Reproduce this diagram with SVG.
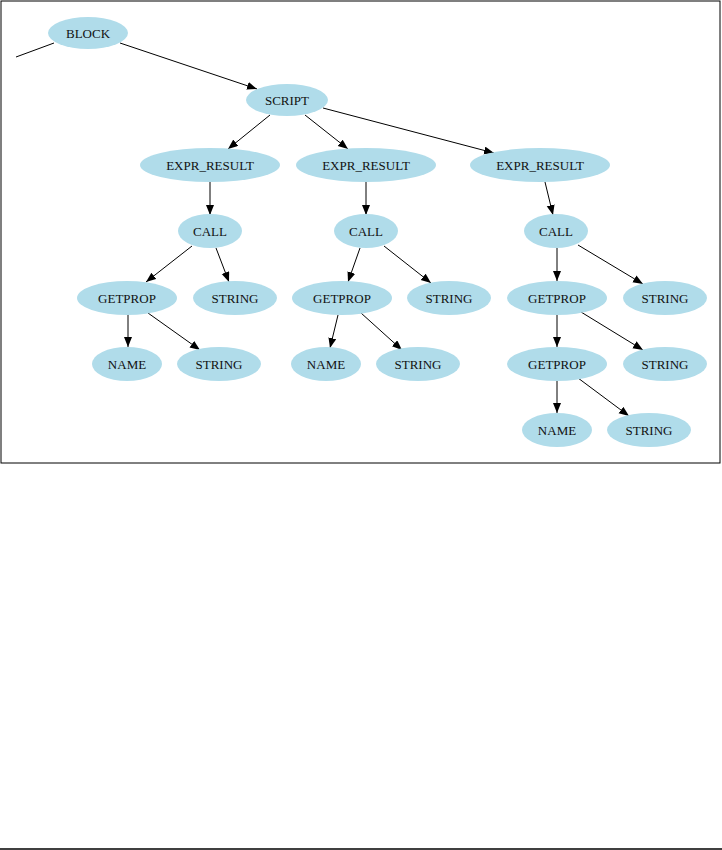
<svg xmlns="http://www.w3.org/2000/svg" width="722" height="850" viewBox="0 0 722 850">
<style>
.n ellipse{fill:#b0dcea;stroke:none}
.n text{font-family:"Liberation Serif","Times New Roman",serif;font-size:13px;fill:#111;text-anchor:middle;dominant-baseline:central}
.e line{stroke:#000;stroke-width:1;marker-end:url(#ah)}
</style>
<defs>
<marker id="ah" markerUnits="userSpaceOnUse" markerWidth="12" markerHeight="10" refX="10" refY="4" orient="auto">
<path d="M0,0 L10,4 L0,8 Z" fill="#000"/>
</marker>
</defs>
<rect x="1" y="1" width="719" height="462" fill="none" stroke="#000" stroke-width="1"/>
<line x1="0" y1="849" x2="722" y2="849" stroke="#000" stroke-width="1.5"/>
<g id="connectors" class="e">
<line x1="16" y1="57" x2="54" y2="43" style="marker-end:none"/>
<line x1="120" y1="43" x2="257" y2="89"/>
<line x1="270" y1="115" x2="228" y2="149"/>
<line x1="305" y1="115" x2="348" y2="149"/>
<line x1="323" y1="108" x2="494" y2="153"/>
<line x1="210" y1="182" x2="210" y2="215"/>
<line x1="366" y1="182" x2="366" y2="215"/>
<line x1="545" y1="182" x2="553" y2="215"/>
<line x1="192" y1="246" x2="146" y2="282"/>
<line x1="216" y1="248" x2="229" y2="282"/>
<line x1="360" y1="248" x2="348" y2="282"/>
<line x1="384" y1="246" x2="431" y2="283"/>
<line x1="557" y1="248" x2="557" y2="281"/>
<line x1="578" y1="245" x2="643" y2="284"/>
<line x1="128" y1="314" x2="128" y2="347"/>
<line x1="148" y1="313" x2="200" y2="350"/>
<line x1="338" y1="315" x2="330" y2="348"/>
<line x1="361" y1="313" x2="402" y2="350"/>
<line x1="557" y1="315" x2="557" y2="347"/>
<line x1="581" y1="312" x2="643" y2="350"/>
<line x1="557" y1="381" x2="557" y2="413"/>
<line x1="578" y1="378" x2="629" y2="416"/>
</g>
<g id="block" class="n"><ellipse cx="88" cy="33" rx="40" ry="16"/><text x="88" y="33">BLOCK</text></g>
<g id="script" class="n"><ellipse cx="287" cy="100" rx="41" ry="16"/><text x="287" y="100">SCRIPT</text></g>
<g id="expr1" class="n"><ellipse cx="210" cy="165" rx="70" ry="17"/><text x="210" y="165">EXPR_RESULT</text></g>
<g id="expr2" class="n"><ellipse cx="366" cy="165" rx="70" ry="17"/><text x="366" y="165">EXPR_RESULT</text></g>
<g id="expr3" class="n"><ellipse cx="540" cy="165" rx="70" ry="17"/><text x="540" y="165">EXPR_RESULT</text></g>
<g id="call1" class="n"><ellipse cx="210" cy="231" rx="32" ry="17"/><text x="210" y="231">CALL</text></g>
<g id="call2" class="n"><ellipse cx="366" cy="231" rx="32" ry="17"/><text x="366" y="231">CALL</text></g>
<g id="call3" class="n"><ellipse cx="556" cy="231" rx="32" ry="17"/><text x="556" y="231">CALL</text></g>
<g id="getprop1" class="n"><ellipse cx="127" cy="298" rx="50" ry="17"/><text x="127" y="298">GETPROP</text></g>
<g id="string1" class="n"><ellipse cx="235" cy="298" rx="42" ry="17"/><text x="235" y="298">STRING</text></g>
<g id="getprop2" class="n"><ellipse cx="342" cy="298" rx="50" ry="17"/><text x="342" y="298">GETPROP</text></g>
<g id="string2" class="n"><ellipse cx="449" cy="298" rx="42" ry="17"/><text x="449" y="298">STRING</text></g>
<g id="getprop3" class="n"><ellipse cx="557" cy="298" rx="50" ry="17"/><text x="557" y="298">GETPROP</text></g>
<g id="string3" class="n"><ellipse cx="665" cy="298" rx="42" ry="17"/><text x="665" y="298">STRING</text></g>
<g id="name1" class="n"><ellipse cx="127" cy="364" rx="35" ry="17"/><text x="127" y="364">NAME</text></g>
<g id="string1b" class="n"><ellipse cx="219" cy="364" rx="42" ry="17"/><text x="219" y="364">STRING</text></g>
<g id="name2" class="n"><ellipse cx="326" cy="364" rx="35" ry="17"/><text x="326" y="364">NAME</text></g>
<g id="string2b" class="n"><ellipse cx="418" cy="364" rx="42" ry="17"/><text x="418" y="364">STRING</text></g>
<g id="getprop3b" class="n"><ellipse cx="557" cy="364" rx="50" ry="17"/><text x="557" y="364">GETPROP</text></g>
<g id="string3b" class="n"><ellipse cx="665" cy="364" rx="42" ry="17"/><text x="665" y="364">STRING</text></g>
<g id="name3" class="n"><ellipse cx="557" cy="430" rx="35" ry="17"/><text x="557" y="430">NAME</text></g>
<g id="string3c" class="n"><ellipse cx="649" cy="430" rx="42" ry="17"/><text x="649" y="430">STRING</text></g>
</svg>
